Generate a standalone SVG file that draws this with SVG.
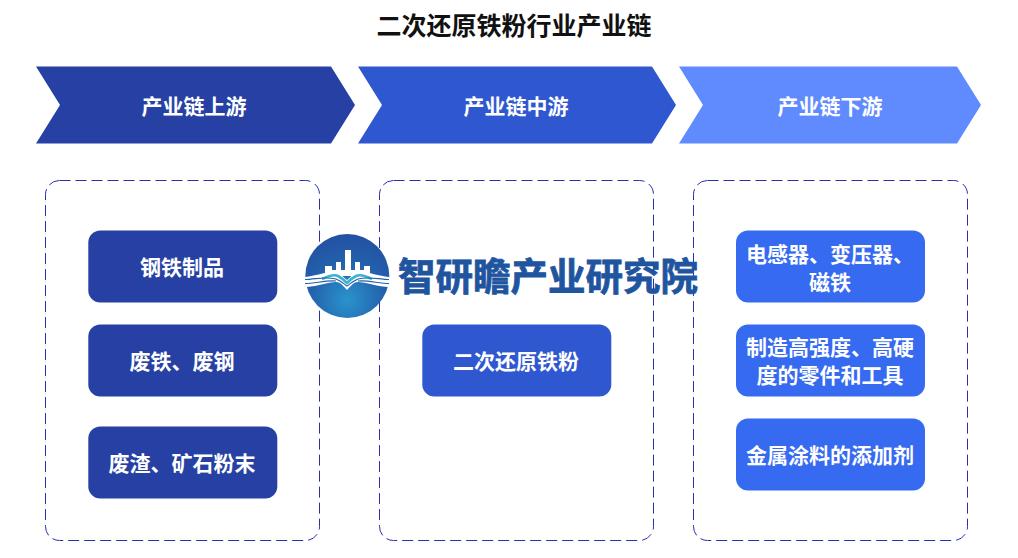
<svg xmlns="http://www.w3.org/2000/svg" width="1018" height="558" viewBox="0 0 1018 558">
<style>
text{font-family:"Noto Sans CJK SC","Liberation Sans",sans-serif;font-weight:700;text-anchor:middle}
.t{font-size:21px;fill:#fff}
.n{font-size:21px;fill:#fff}
.d{fill:none;stroke:#2a2fb0;stroke-width:1;stroke-dasharray:11 5}
.u{fill:#2641a3}.m{fill:#2f58d0}.l{fill:#366af0}
</style>
<defs><radialGradient id="g" cx="0.5" cy="0.78" r="0.75"><stop offset="0" stop-color="#2a93cc"/><stop offset="0.6" stop-color="#2361ab"/><stop offset="1" stop-color="#2352a3"/></radialGradient></defs>
<rect width="1018" height="558" fill="#fff"/>
<text x="514" y="35" font-size="25" fill="#111">二次还原铁粉行业产业链</text>
<g id="stage-up"><polygon points="36,66.500 331,66.500 355,105 331,143.500 36,143.500 60,105" fill="#2641a3"/><text class="t" x="194" y="114">产业链上游</text></g>
<g id="stage-mid"><polygon points="358,66.500 652,66.500 676,105 652,143.500 358,143.500 382,105" fill="#2f58d0"/><text class="t" x="516" y="114">产业链中游</text></g>
<g id="stage-down"><polygon points="679,66.500 957,66.500 981,105 957,143.500 679,143.500 703,105" fill="#608bff"/><text class="t" x="830" y="114">产业链下游</text></g>
<g id="panel-up"><rect class="d" x="45.500" y="180.500" width="274" height="360" rx="14"/></g>
<g id="panel-mid"><rect class="d" x="379.500" y="180.500" width="274" height="360" rx="14"/></g>
<g id="panel-down"><rect class="d" x="693.500" y="180.500" width="274" height="360" rx="14"/></g>
<g id="n1"><rect class="u" x="88.300" y="230.500" width="189" height="72" rx="12"/><text class="n" x="182" y="275">钢铁制品</text></g>
<g id="n2"><rect class="u" x="88.300" y="324.500" width="189" height="72" rx="12"/><text class="n" x="182" y="369">废铁、废钢</text></g>
<g id="n3"><rect class="u" x="88.300" y="426.500" width="189" height="72" rx="12"/><text class="n" x="182" y="471">废渣、矿石粉末</text></g>
<g id="n4"><rect class="m" x="422.300" y="324.500" width="189" height="72" rx="12"/><text class="n" x="516" y="369">二次还原铁粉</text></g>
<g id="n5"><rect class="l" x="736" y="230.500" width="189" height="72" rx="12"/><text class="n" x="830" y="262">电感器、变压器、</text><text class="n" x="830" y="290">磁铁</text></g>
<g id="n6"><rect class="l" x="736" y="324.500" width="189" height="72" rx="12"/><text class="n" x="830" y="355">制造高强度、高硬</text><text class="n" x="830" y="383">度的零件和工具</text></g>
<g id="n7"><rect class="l" x="736" y="418.500" width="189" height="72" rx="12"/><text class="n" x="830" y="463">金属涂料的添加剂</text></g>
<g id="logo">
<circle cx="347.300" cy="276" r="42" fill="url(#g)"/>
<path d="M325 276V266H332V270H336V262H341V270H345V250H351V270H355V262H360V270H364V266H370V276Z" fill="#fff"/>
<path d="M305 277C315 276 325 272 333 272C340 272 344 278 347 280C350 278 354 272 361 272C369 272 379 276 389 277V287C379 287 365 282 358 282C353 282 350 287 347 290C344 287 341 282 336 282C329 282 315 287 305 287Z" fill="#fff"/>
<path d="M322 279C328 276 334 274 338 276C342 278 345 281 347 283C349 281 352 278 356 276C360 274 366 276 372 279" fill="none" stroke="#38b4cf" stroke-width="2.600"/>
<path d="M305 279.500C315 279.500 326 276 336 279C341 281 344 284 347 286C350 284 353 281 358 279C368 276 379 279.500 389 279.500M305 283.500C315 283.500 326 280 336 281" fill="none" stroke="#2361ab" stroke-width="1.100"/>
<path d="M389 283.500C379 283.500 368 280 358 281" fill="none" stroke="#2361ab" stroke-width="1.100"/>
<text x="548" y="290" font-size="37.500" fill="#1f559f" stroke="#1f559f" stroke-width="0.800">智研瞻产业研究院</text>
</g>
</svg>
